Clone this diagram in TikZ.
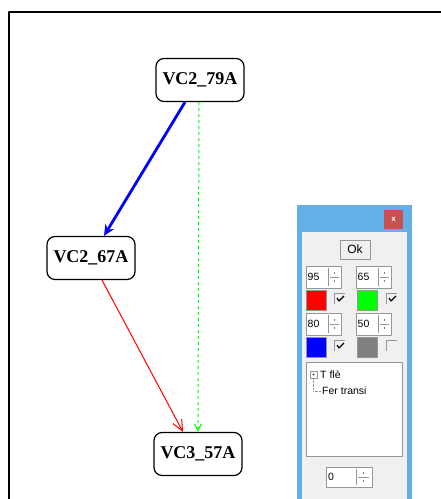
\documentclass[tikz,border=0pt]{standalone}
\usepackage{fontspec}
\setmainfont{Liberation Serif}
\newfontfamily\guifont{Liberation Sans}
\usetikzlibrary{arrows.meta}

\definecolor{winblue}{RGB}{100,176,230}
\definecolor{panelgray}{RGB}{240,240,240}
\definecolor{closered}{RGB}{199,80,80}
\definecolor{edgegray}{RGB}{150,150,150}

\begin{document}
\begin{tikzpicture}[x=1pt, y=-1pt, line join=round,
  vc/.style={draw, line width=1.2pt, rounded corners=8pt, minimum width=88pt,
    minimum height=43pt, inner sep=0pt, font=\fontsize{18}{18}\selectfont\bfseries},
  gui/.style={inner sep=0pt, font=\guifont\fontsize{10.5}{10.5}\selectfont},
  sunk/.style={draw=edgegray, fill=white, line width=0.6pt}]
\useasboundingbox (0,0) rectangle (441,499);
\draw[line width=2pt] (8.5,499) -- (8.5,12) -- (441,12);

\node[vc] (top) at (200,80) {VC2\_79A};
\node[vc] (left) at (91,258) {VC2\_67A};
\node[vc] (bot) at (198,454) {VC3\_57A};

\draw[blue, line width=2.8pt, -{Stealth[length=11pt, width=10pt]}]
  ([xshift=-15pt]top.south) -- ([xshift=13pt]left.north);
\draw[green, line width=1pt, dashed, -{Straight Barb[length=7pt, width=7pt]}]
  ([xshift=-1pt]top.south) -- (bot.north);
\draw[red, line width=1pt, -{Straight Barb[length=11pt, width=10pt]}]
  ([xshift=11pt]left.south) -- ([xshift=-15pt]bot.north);

\fill[winblue] (297,205) rectangle (412,499);
\fill[panelgray] (302,232) rectangle (407,499);
\fill[closered] (384,210) rectangle (403,229);
\node[gui, white, font=\guifont\fontsize{8}{8}\selectfont\bfseries] (close) at (393.5,219) {x};

\draw[edgegray, fill=panelgray, line width=0.8pt] (340,240) rectangle (370,259);
\node[gui, font=\guifont\fontsize{12}{12}\selectfont] (ok) at (355,249.5) {Ok};

\foreach \px/\py/\val in {306/266/95, 356/266/65, 306/313/80, 356/313/50}{
  \draw[sunk] (\px,\py) rectangle ++(35,22);
  \node[gui, anchor=west] (v\val) at (\px+1.5,\py+11) {\val};
  \draw[edgegray] (\px+22,\py+2) -- ++(0,18) (\px+24,\py+11) -- ++(9,0);
  \fill (\px+28.5,\py+7) circle (0.7pt) (\px+28.5,\py+15) circle (0.7pt);
}

\foreach \px/\col in {306/red, 357/green}{
  \draw[edgegray, fill=\col] (\px,290) rectangle ++(20,20);
}
\foreach \px/\col in {306/blue, 357/gray}{
  \draw[edgegray, fill=\col] (\px,337) rectangle ++(20,20);
}
\foreach \px/\py in {334/293, 386/293, 334/340}{
  \draw[edgegray] (\px,\py+11) -- (\px,\py) -- (\px+11,\py);
  \draw[line width=1.2pt] (\px+3,\py+5) -- (\px+5,\py+8) -- (\px+10,\py+3);
}
\draw[edgegray] (386,351) -- (386,340) -- (397,340);

\draw[sunk] (306,362) rectangle (402,456);
\draw[edgegray, fill=white] (310,371) rectangle ++(7,7);
\fill (313.5,374.5) circle (0.9pt);
\draw[edgegray, densely dotted] (313.5,378) -- (313.5,391) -- (321,391);
\node[gui, anchor=west] (tfle) at (320,375) {T flè};
\node[gui, anchor=west] (fer) at (322,391) {Fer transi};

\draw[sunk] (326,467) rectangle (372,487);
\node[gui, anchor=west] (zero) at (328,477) {0};
\draw[edgegray] (356,469) -- ++(0,16) (358,477) -- ++(11,0);
\fill (363.5,473) circle (0.7pt) (363.5,481) circle (0.7pt);
\end{tikzpicture}
\end{document}
